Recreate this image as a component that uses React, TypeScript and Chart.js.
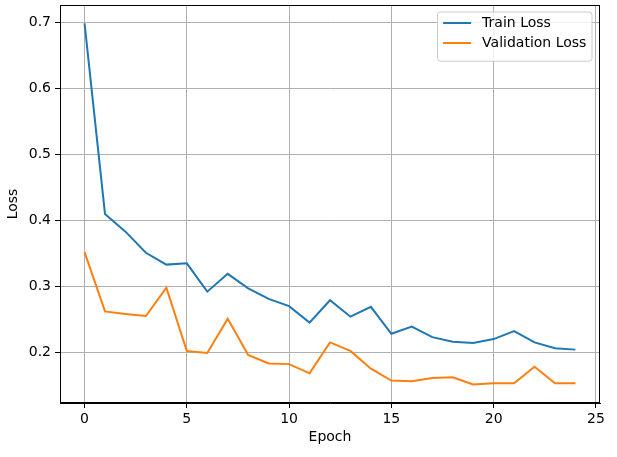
import React, { useEffect, useRef } from "react";
import { Chart, registerables } from "chart.js";

Chart.register(...registerables);

const epochs = [0, 1, 2, 3, 4, 5, 6, 7, 8, 9, 10, 11, 12, 13, 14, 15, 16, 17, 18, 19, 20, 21, 22, 23, 24];
const trainLoss = [0.699, 0.410, 0.383, 0.351, 0.333, 0.335, 0.292, 0.319, 0.297, 0.281, 0.270, 0.245, 0.279, 0.254, 0.269, 0.228, 0.239, 0.223, 0.216, 0.214, 0.220, 0.232, 0.215, 0.206, 0.204];
const valLoss = [0.352, 0.262, 0.258, 0.255, 0.298, 0.202, 0.199, 0.251, 0.196, 0.183, 0.182, 0.168, 0.215, 0.202, 0.175, 0.157, 0.156, 0.161, 0.162, 0.151, 0.153, 0.153, 0.178, 0.153, 0.153];
const seriesLabels = ["Train Loss", "Validation Loss"];
const xTicks = [0, 5, 10, 15, 20, 25];
const yTicks = [0.2, 0.3, 0.4, 0.5, 0.6, 0.7];

const FONT = "'DejaVu Sans', sans-serif";

const framePlugin = {
  id: "frameAndLegend",
  afterDraw(chart: any) {
    const { ctx, chartArea } = chart;
    const { left, right, top, bottom } = chartArea;
    ctx.save();
    ctx.strokeStyle = "#000";
    ctx.lineWidth = 1;
    ctx.strokeRect(Math.round(left) + 0.5, Math.round(top) + 0.5, Math.round(right - left) - 1, Math.round(bottom - top) - 1);

    // legend
    ctx.font = `14px ${FONT}`;
    const ds = chart.data.datasets;
    const textW = Math.max(...ds.map((d: any) => ctx.measureText(d.label).width));
    const pad = 5.6;
    const handleLen = 28;
    const handlePad = 11;
    const rowH = 20;
    const boxW = pad * 2 + handleLen + handlePad + textW;
    const boxH = pad * 2 + rowH * ds.length - 2;
    const bx = right - 8 - boxW;
    const by = top + 7;
    ctx.beginPath();
    const r = 3;
    ctx.moveTo(bx + r, by);
    ctx.lineTo(bx + boxW - r, by);
    ctx.quadraticCurveTo(bx + boxW, by, bx + boxW, by + r);
    ctx.lineTo(bx + boxW, by + boxH - r);
    ctx.quadraticCurveTo(bx + boxW, by + boxH, bx + boxW - r, by + boxH);
    ctx.lineTo(bx + r, by + boxH);
    ctx.quadraticCurveTo(bx, by + boxH, bx, by + boxH - r);
    ctx.lineTo(bx, by + r);
    ctx.quadraticCurveTo(bx, by, bx + r, by);
    ctx.closePath();
    ctx.fillStyle = "rgba(255,255,255,0.8)";
    ctx.fill();
    ctx.strokeStyle = "#cccccc";
    ctx.lineWidth = 1;
    ctx.stroke();
    ds.forEach((d: any, i: number) => {
      const cy = by + 11 + rowH * i;
      ctx.strokeStyle = d.borderColor;
      ctx.lineWidth = 2;
      ctx.beginPath();
      ctx.moveTo(bx + pad, cy);
      ctx.lineTo(bx + pad + handleLen, cy);
      ctx.stroke();
      ctx.fillStyle = "#000";
      ctx.textBaseline = "middle";
      ctx.textAlign = "left";
      ctx.fillText(d.label, bx + pad + handleLen + handlePad, cy);
    });
    ctx.restore();
  },
};

export default function App() {
  const ref = useRef<HTMLCanvasElement | null>(null);
  useEffect(() => {
    document.body.style.margin = "0";
    const canvas = ref.current!;
    const chart = new Chart(canvas, {
      type: "line",
      data: {
        datasets: [
          {
            label: seriesLabels[0],
            data: epochs.map((e, i) => ({ x: e, y: trainLoss[i] })),
            borderColor: "#1f77b4",
            backgroundColor: "#1f77b4",
            borderWidth: 2,
            pointRadius: 0,
            tension: 0,
          },
          {
            label: seriesLabels[1],
            data: epochs.map((e, i) => ({ x: e, y: valLoss[i] })),
            borderColor: "#ff7f0e",
            backgroundColor: "#ff7f0e",
            borderWidth: 2,
            pointRadius: 0,
            tension: 0,
          },
        ],
      },
      options: {
        animation: false,
        responsive: false,
        layout: { padding: { top: 5, right: 17, left: 0, bottom: 0 } },
        plugins: { legend: { display: false }, tooltip: { enabled: false } },
        scales: {
          x: {
            type: "linear",
            min: -1.2,
            max: 25.2,
            afterBuildTicks: (axis: any) => {
              axis.ticks = xTicks.map((v) => ({ value: v }));
            },
            afterFit: (axis: any) => {
              axis.height = 54;
              axis.paddingLeft = 0;
              axis.paddingRight = 0;
            },
            ticks: { color: "#000", font: { family: FONT, size: 14 }, padding: 3, maxRotation: 0 },
            grid: { color: "#b0b0b0", lineWidth: 1, tickColor: "#000", tickLength: 5, drawTicks: true },
            border: { display: true, color: "#000" },
            title: { display: true, text: "Epoch", color: "#000", font: { family: FONT, size: 14 }, padding: { top: 0, bottom: 11.5 } },
          },
          y: {
            type: "linear",
            min: 0.123,
            max: 0.727,
            afterBuildTicks: (axis: any) => {
              axis.ticks = yTicks.map((v) => ({ value: v }));
            },
            afterFit: (axis: any) => {
              axis.width = 60;
              axis.paddingTop = 0;
              axis.paddingBottom = 0;
            },
            ticks: {
              color: "#000",
              font: { family: FONT, size: 14 },
              padding: 4,
              callback: (v: any) => Number(v).toFixed(1),
            },
            grid: { color: "#b0b0b0", lineWidth: 1, tickColor: "#000", tickLength: 5, drawTicks: true },
            border: { display: true, color: "#000" },
            title: { display: true, text: "Loss", color: "#000", font: { family: FONT, size: 14 }, padding: { top: 4.5, bottom: 0 } },
          },
        },
      },
      plugins: [framePlugin],
    } as any);
    return () => chart.destroy();
  }, []);
  return <canvas ref={ref} width={617} height={457} style={{ display: "block" }} />;
}
